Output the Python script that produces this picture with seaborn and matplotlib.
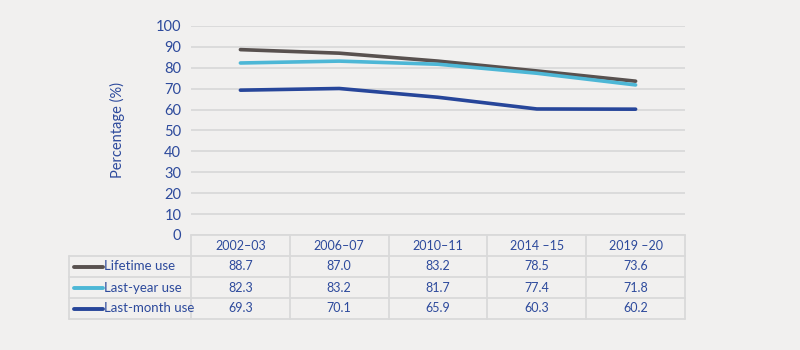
import pandas as pd
import matplotlib.pyplot as plt
import seaborn as sns
from matplotlib.lines import Line2D

periods = ['2002–03', '2006–07', '2010–11', '2014 –15', '2019 –20']
series = ['Lifetime use', 'Last-year use', 'Last-month use']
lifetime = [88.7, 87.0, 83.2, 78.5, 73.6]
last_year = [82.3, 83.2, 81.7, 77.4, 71.8]
last_month = [69.3, 70.1, 65.9, 60.3, 60.2]
colors = ['#58514f', '#4db7d6', '#27469a']

bg = '#f1f0ef'
txt = '#2d4a9c'
grid = '#d9d9d9'

sns.set_theme(style='white')
plt.rcParams['font.family'] = ['Lato', 'DejaVu Sans']

df = pd.DataFrame({'period': periods * 3,
                   'x': list(range(5)) * 3,
                   'value': lifetime + last_year + last_month,
                   'series': [s for s in series for _ in periods]})

fig = plt.figure(figsize=(8, 3.5), dpi=100, facecolor=bg)
W, H = 800, 350
L, R, T, B = 191, 685, 26, 235
ax = fig.add_axes([L / W, 1 - B / H, (R - L) / W, (B - T) / H])
ax.set_facecolor(bg)

sns.lineplot(data=df, x='x', y='value', hue='series', hue_order=series,
             palette=colors, lw=2.6, ax=ax, legend=False)

ax.set_xlim(-0.5, 4.5)
ax.set_ylim(0, 100)
ax.set_yticks(range(0, 101, 10))
ax.set_xticks([])
ax.set_xlabel('')
ax.set_ylabel('Percentage (%)', color=txt, fontsize=10.5, labelpad=22)
ax.tick_params(axis='y', colors=txt, labelsize=10.5, length=0, pad=7)
ax.grid(axis='y', color=grid, lw=1.3)
ax.set_axisbelow(True)
for s in ax.spines.values():
    s.set_visible(False)

# table below the plot
def fx(px):
    return px / W

def fy(py):
    return 1 - py / H

col_w = (R - L) / 5
rows_y = [235, 256, 277, 298, 319]
left_tab = 69
kw = dict(color=grid, lw=1.3, transform=fig.transFigure)
fig.add_artist(Line2D([fx(L), fx(R)], [fy(235), fy(235)], **kw))
for y in rows_y[1:]:
    fig.add_artist(Line2D([fx(left_tab), fx(R)], [fy(y), fy(y)], **kw))
for i in range(6):
    x = L + i * col_w
    fig.add_artist(Line2D([fx(x), fx(x)], [fy(235), fy(319)], **kw))
fig.add_artist(Line2D([fx(left_tab), fx(left_tab)], [fy(256), fy(319)], **kw))

for i, p in enumerate(periods):
    fig.text(fx(L + (i + 0.5) * col_w), fy(245.5), p, ha='center', va='center',
             color=txt, fontsize=9)

values = [lifetime, last_year, last_month]
for r, (name, vals, c) in enumerate(zip(series, values, colors)):
    yc = (rows_y[r + 1] + rows_y[r + 2]) / 2
    fig.add_artist(Line2D([fx(74), fx(103)], [fy(yc), fy(yc)], color=c, lw=2.8,
                          solid_capstyle='round', transform=fig.transFigure))
    fig.text(fx(104), fy(yc), name, ha='left', va='center', color=txt, fontsize=9.5)
    for i, v in enumerate(vals):
        fig.text(fx(L + (i + 0.5) * col_w), fy(yc), f'{v:.1f}', ha='center',
                 va='center', color=txt, fontsize=9)

fig.savefig('out.png', dpi=100, facecolor=bg)
